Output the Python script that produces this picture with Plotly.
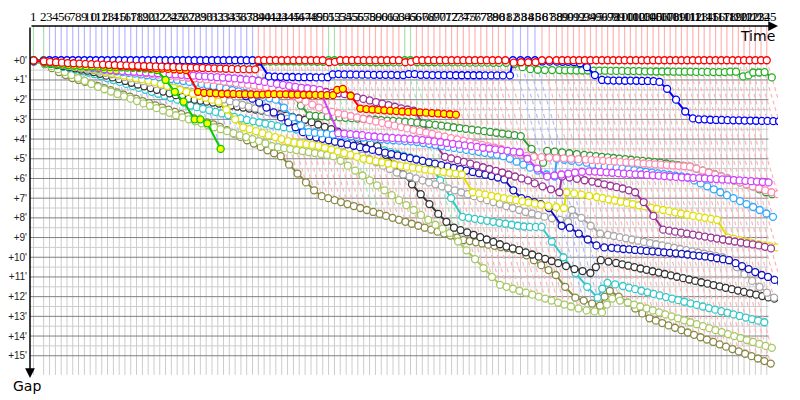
import itertools
import plotly.graph_objects as go

# leader lap times in minutes (lap 1->2, 2->3, ...)
LAP_TIMES = [
    1.75,
    1.02, 1.01, 1.0, 1.0, 0.99, 1.0, 1.01, 1.0, 0.99, 1.0,
    1.0, 1.01, 1.0, 0.99, 1.0, 1.0, 1.01, 1.0, 1.0, 0.99,
    1.0, 1.0, 1.01, 1.0, 0.99, 1.0, 1.0, 1.0, 1.01, 0.99,
    1.0, 1.0, 1.0, 1.0, 0.99, 1.01, 1.0, 1.0,
    1.01, 1.0, 1.02, 1.01, 1.01, 1.0, 1.02, 1.01, 1.0, 1.02,
    1.01, 1.01, 1.0, 1.02, 1.01, 1.01, 1.0, 1.02, 1.01, 1.01,
    1.0, 1.02, 1.01, 1.01, 1.0, 1.02, 1.01, 1.01, 1.0, 1.02,
    1.01, 1.01, 1.0, 1.02, 1.01, 1.01, 1.0, 1.02, 1.01, 1.01,
    1.2, 1.3, 1.3, 1.25, 1.25, 1.2, 1.25, 1.25,
    0.98, 0.97, 0.99, 0.98, 0.98, 0.97, 0.99, 0.98, 0.98, 0.97,
    0.99, 0.98, 0.98, 0.97, 0.99, 0.98, 0.98, 0.97, 0.99, 0.98,
    0.98, 0.97, 0.99, 0.98, 0.98, 0.97, 0.99, 0.98, 0.98, 0.97,
    0.99, 0.98, 0.98, 0.97, 0.99, 0.98, 0.98,
]

# (first lap, last lap, leading car)
LEAD_SPELLS = [
    (1, 2, "green"), (3, 38, "blue"), (39, 50, "red"), (51, 52, "green"),
    (53, 63, "red"), (64, 65, "green"), (66, 81, "red"), (82, 85, "blue"),
    (86, 125, "red"),
]

GAP_LABELS = ["+%d'" % m for m in range(16)]

# gap to leader per lap, minutes
RED = [
    0.01, 0.05, 0.08, 0.1, 0.12, 0.14, 0.15, 0.17, 0.18, 0.2,
    0.21, 0.22, 0.23, 0.24, 0.25, 0.26, 0.27, 0.28, 0.29, 0.3,
    0.31, 0.32, 0.33, 0.34, 0.35, 0.36, 0.37, 0.38, 0.39, 0.4,
    0.41, 0.42, 0.43, 0.44, 0.45, 0.45, 0.46, 0.46,
    0, 0, 0, 0, 0, 0, 0, 0, 0, 0, 0, 0,
    0.1, 0.08,
    0, 0, 0, 0, 0, 0, 0, 0, 0, 0, 0,
    0.1, 0.08,
    0, 0, 0, 0, 0, 0, 0, 0, 0, 0, 0, 0, 0, 0, 0, 0,
    0.12, 0.1, 0.1, 0.1,
    0, 0, 0, 0, 0, 0, 0, 0, 0, 0, 0, 0, 0, 0, 0, 0, 0, 0, 0, 0,
    0, 0, 0, 0, 0, 0, 0, 0, 0, 0, 0, 0, 0, 0, 0, 0, 0, 0, 0, 0,
]
BLUE = [
    0.02, 0.02,
    0, 0, 0, 0, 0, 0, 0, 0, 0, 0, 0, 0, 0, 0, 0, 0, 0, 0,
    0, 0, 0, 0, 0, 0, 0, 0, 0, 0, 0, 0, 0, 0, 0, 0, 0, 0,
    0.05, 0.82,
    0.83, 0.84, 0.85, 0.85, 0.86, 0.86, 0.86, 0.87, 0.87, 0.86,
    0.72, 0.7,
    0.72, 0.72, 0.73, 0.73, 0.73, 0.74, 0.74, 0.74, 0.74, 0.75,
    0.75, 0.7, 0.7, 0.74, 0.74, 0.75, 0.75, 0.75, 0.75, 0.76,
    0.76, 0.76, 0.76, 0.76, 0.77, 0.77, 0.77, 0.77, 0.77,
    0, 0, 0, 0,
    0.06, 0.07, 0.07, 0.08, 0.08, 0.1,
    0.15, 0.35, 0.75, 1.0,
    1.02, 1.03, 1.03, 1.04, 1.03, 1.04, 1.05, 1.05, 1.06,
    1.1, 1.45, 2.0, 2.6, 2.95,
    3.0, 3.0, 3.02, 3.03, 3.03, 3.04, 3.05, 3.05, 3.06, 3.06,
    3.07, 3.08, 3.08, 3.09, 3.1, 3.1,
]
GREEN = [
    0.0, 0.0, 0.05, 0.08, 0.09, 0.1, 0.1, 0.11, 0.11, 0.12,
    0.12, 0.13, 0.13, 0.14, 0.14, 0.15, 0.15, 0.15, 0.16, 0.16,
    0.16, 0.17, 0.17, 0.17, 0.18, 0.18, 0.18, 0.19, 0.19, 0.19,
    0.2, 0.2, 0.2, 0.21, 0.21, 0.21, 0.22, 0.22,
    0.08, 0.07, 0.07, 0.07, 0.06, 0.06, 0.06, 0.07, 0.07, 0.07, 0.08, 0.08,
    0.0, 0.0,
    0.08, 0.08, 0.09, 0.09, 0.09, 0.1, 0.1, 0.1, 0.1, 0.11, 0.11,
    0.0, 0.0,
    0.1, 0.1, 0.1, 0.1, 0.11, 0.11, 0.11, 0.11, 0.12, 0.12,
    0.12, 0.12, 0.12, 0.13, 0.13, 0.13,
    0.2, 0.35, 0.45, 0.48,
    0.5, 0.5, 0.5, 0.51, 0.51, 0.52,
    0.52, 0.52, 0.53, 0.53, 0.53, 0.54, 0.54, 0.54, 0.55, 0.55,
    0.55, 0.56, 0.56,
    0.57, 0.57, 0.57, 0.58, 0.58, 0.58, 0.58, 0.59, 0.59, 0.59,
    0.6, 0.6, 0.6, 0.58,
    0.58, 0.82, 0.77, 0.62, 0.62, 0.6, 0.87,
]
RED_YELLOW = [
    0.01, 0.05, 0.08, 0.1, 0.11, 0.12, 0.13, 0.14, 0.15, 0.16,
    0.18, 0.2, 0.22, 0.25, 0.28, 0.3, 0.32, 0.34, 0.36, 0.38,
    0.4, 0.42, 0.44, 0.46, 0.48, 0.5,
    1.6, 1.65, 1.66, 1.68, 1.7, 1.7, 1.71, 1.72, 1.72, 1.73, 1.74, 1.74,
    1.72, 1.72, 1.73, 1.73, 1.74, 1.74, 1.75, 1.75, 1.76, 1.76, 1.77, 1.77,
    1.5, 1.45, 1.8, 2.45,
    2.48, 2.5, 2.52, 2.54, 2.56, 2.58, 2.6, 2.62, 2.62, 2.64,
    2.66, 2.68, 2.7, 2.72, 2.74, 2.76,
]
GREEN_YELLOW = [
    0.01, 0.1, 0.15, 0.2, 0.22, 0.24, 0.26, 0.28, 0.3, 0.31,
    0.32, 0.33, 0.34, 0.35, 0.36, 0.37, 0.38, 0.4, 0.42, 0.45,
    0.5, 1.0, 1.6, 2.1, 3.0, 3.0, 3.2, 4.5,
]
MAGENTA = [
    0.02, 0.08, 0.12, 0.15, 0.18, 0.21, 0.24, 0.28, 0.32, 0.35,
    0.4, 0.45, 0.5, 0.52, 0.54, 0.56, 0.58, 0.6, 0.62, 0.64,
    0.66, 0.68, 0.7, 0.72, 0.74, 0.76, 0.78, 0.8, 0.82, 0.84,
    0.86, 0.88, 0.9, 0.92, 0.95, 0.98, 1.0, 1.05, 1.1, 1.15,
    1.2, 1.25, 1.3, 1.35, 1.4, 1.42, 1.45, 1.5,
    3.7, 3.72, 3.75, 3.78, 3.8, 3.85, 3.87, 3.9, 3.92, 3.94, 3.96, 3.98, 4.0,
    4.02, 4.05, 4.08, 4.12, 4.15, 4.2, 4.24, 4.28, 4.32, 4.36,
    4.4, 4.44, 4.48, 4.52, 4.56, 4.6, 4.64, 4.67,
    5.0, 5.5, 5.9, 5.85, 5.8, 5.75, 5.7, 5.66, 5.64,
    5.65, 5.67, 5.69, 5.71, 5.73, 5.75, 5.77, 5.79, 5.8, 5.82,
    5.84, 5.86, 5.88, 5.9, 5.92, 5.94,
    5.95, 5.97, 5.98, 6.0, 6.02, 6.03, 6.05, 6.06, 6.08, 6.1,
    6.12, 6.14, 6.16, 6.18, 6.2,
]
DARK_BLUE = [
    0.02, 0.06, 0.09, 0.12, 0.15, 0.18, 0.2, 0.23, 0.26, 0.3,
    0.33, 0.36, 0.39, 0.42, 0.45, 0.48, 0.51, 0.54, 0.57, 0.6, 0.63, 0.67,
    0.75, 0.83, 0.9, 0.98, 1.06, 1.15, 1.24, 1.33, 1.42, 1.51, 1.6, 1.7, 1.82, 1.95,
    2.15, 2.4, 2.65, 2.9, 3.15, 3.4, 3.65, 3.85,
    3.92, 3.99, 4.06, 4.13, 4.2, 4.27, 4.34, 4.41, 4.48, 4.55,
    4.62, 4.69, 4.76, 4.83, 4.9, 4.97, 5.04, 5.11, 5.18, 5.25,
    5.32, 5.39, 5.46, 5.53, 5.6, 5.67, 5.74, 5.81, 5.88, 5.95,
    6.05, 6.6, 7.0, 7.1, 7.2, 7.3, 7.5, 8.4, 8.5, 8.8, 9.1, 9.4, 9.5,
    9.52, 9.55, 9.58, 9.6, 9.63, 9.65, 9.68, 9.7, 9.73, 9.75,
    9.78, 9.8, 9.83, 9.86, 9.9, 9.93, 9.96, 10.0, 10.05, 10.1, 10.15,
    10.3, 10.45, 10.6, 10.75, 10.9, 11.0, 11.15, 11.3,
]
PINK = [
    0.03, 0.07, 0.1, 0.13, 0.17, 0.2, 0.24, 0.27, 0.31, 0.35,
    0.38, 0.42, 0.45, 0.49, 0.52, 0.56, 0.59, 0.63, 0.66, 0.7,
    0.73, 0.76, 0.79, 0.82, 0.85, 0.88, 0.91, 0.94, 0.97, 1.0,
    1.04, 1.08, 1.12, 1.16, 1.2, 1.24, 1.28, 1.32, 1.36, 1.4,
    1.55, 1.7, 1.82, 1.95, 2.1, 2.25, 2.4, 2.55,
    2.62, 2.69, 2.76, 2.83, 2.9, 2.97, 3.04, 3.11, 3.18, 3.25,
    3.32, 3.39, 3.46, 3.53, 3.6, 3.67, 3.74, 3.81, 3.88, 3.95,
    4.02, 4.09, 4.16, 4.23, 4.3, 4.37, 4.44, 4.5,
    4.6, 4.7, 4.78, 4.85, 4.9,
    4.92, 4.94, 4.96, 4.98, 5.0, 5.02, 5.04, 5.06, 5.08, 5.1,
    5.12, 5.14, 5.16, 5.18, 5.2, 5.22, 5.24, 5.26, 5.28, 5.3,
    5.32, 5.34, 5.36, 5.38, 5.4,
    5.5, 5.6, 5.7, 5.8, 5.9, 6.0, 6.1, 6.2, 6.3, 6.4, 6.5, 6.6, 6.7, 6.8,
]
PURPLE = [
    0.02, 0.05, 0.08, 0.11, 0.14, 0.17, 0.2, 0.23, 0.27, 0.3,
    0.33, 0.36, 0.39, 0.42, 0.45, 0.48, 0.51, 0.54, 0.57, 0.6,
    0.63, 0.66, 0.69, 0.72, 0.75, 0.78, 0.81, 0.84, 0.87, 0.9,
    0.93, 0.97, 1.0, 1.04, 1.07, 1.11, 1.14, 1.18, 1.21, 1.25,
    1.29, 1.33, 1.37, 1.41, 1.45, 1.49, 1.53, 1.57, 1.61, 1.65, 1.68, 1.72,
    1.8, 1.88, 1.96, 2.04, 2.12, 2.2, 2.28, 2.36, 2.44, 2.5, 2.56,
    3.2, 4.3, 4.9,
    4.98, 5.07, 5.16, 5.25, 5.34, 5.43, 5.52, 5.61, 5.7, 5.8, 5.9, 6.0,
    6.1, 6.25, 6.4, 6.55, 6.7,
    5.9,
    5.95, 6.02, 6.09, 6.16, 6.23, 6.3, 6.37, 6.44, 6.51, 6.6, 6.7,
    7.2, 7.9, 8.6,
    8.65, 8.7, 8.75, 8.8, 8.85, 8.9, 8.95, 9.0, 9.05, 9.1,
    9.15, 9.2, 9.25, 9.3, 9.35, 9.4, 9.47, 9.55,
]
YELLOW = [
    0.03, 0.08, 0.12, 0.17, 0.21, 0.26, 0.31, 0.35, 0.4, 0.45,
    0.51, 0.57, 0.64, 0.7, 0.77, 0.83, 0.9, 0.96, 1.03, 1.1,
    1.2, 1.3, 1.4, 1.5, 1.6, 1.7, 1.8, 1.9, 2.0, 2.1,
    2.5, 3.0, 3.4,
    3.5, 3.6, 3.7, 3.8, 3.9, 4.0, 4.1,
    4.18, 4.22, 4.26, 4.3, 4.35,
    4.44, 4.53, 4.62, 4.71, 4.8, 4.9, 5.0,
    5.06, 5.12, 5.18, 5.24, 5.3, 5.35, 5.4,
    5.45, 5.5, 5.55, 5.59, 5.63, 5.67, 5.71, 5.75, 5.8,
    6.7,
    6.76, 6.82, 6.88, 6.94, 7.0, 7.05, 7.1,
    7.16, 7.22, 7.28, 7.34, 7.4, 7.45, 7.5,
    6.7,
    6.76, 6.82, 6.88, 6.94, 7.0, 7.06, 7.12, 7.18, 7.24, 7.3,
    7.36, 7.42, 7.48, 7.54, 7.6, 7.66, 7.72, 7.78, 7.84, 7.9,
    7.95, 8.0, 8.05, 8.1,
    9.0,
    9.07, 9.14, 9.21, 9.28, 9.35, 9.4, 9.45, 9.5,
]
AZURE = [
    0.03, 0.07, 0.11, 0.15, 0.19, 0.23, 0.27, 0.31, 0.35, 0.4,
    0.44, 0.48, 0.52, 0.56, 0.6, 0.64, 0.68, 0.72, 0.76, 0.8,
    0.85, 0.9, 0.95, 1.0, 1.05, 1.1, 1.15, 1.2, 1.25, 1.3,
    1.37, 1.44, 1.51, 1.58, 1.65, 1.72, 1.79, 1.86, 1.93, 2.0,
    2.4, 2.9, 3.3, 3.65,
    3.68, 3.71, 3.74, 3.77, 3.8, 3.83, 3.86, 3.89, 3.92, 3.95,
    3.98, 4.01, 4.04, 4.06, 4.08, 4.1, 4.12, 4.15,
    4.2, 4.25, 4.3, 4.35, 4.4, 4.45, 4.5, 4.55, 4.6, 4.65, 4.7, 4.75, 4.8, 4.87,
    5.0, 5.15, 5.3, 5.45, 5.6, 5.8,
    5.9, 5.0,
    5.05, 5.1, 5.15, 5.2,
    5.3, 5.34, 5.38, 5.42, 5.46, 5.5, 5.54, 5.58, 5.62, 5.66,
    5.7, 5.74, 5.78, 5.82, 5.86, 5.9, 5.95,
    6.1, 6.25, 6.4, 6.55, 6.7, 6.85, 7.0, 7.15, 7.3, 7.45, 7.6, 7.78, 7.95,
]
DARK_GREEN = [
    0.02, 0.06, 0.1, 0.14, 0.18, 0.21, 0.24, 0.27, 0.31, 0.35,
    0.38, 0.41, 0.44, 0.47, 0.5, 0.53, 0.56, 0.59, 0.62, 0.65,
    0.68, 0.71, 0.74, 0.77, 0.81, 0.86, 0.92,
    0.93, 0.94, 0.95, 0.96, 0.97, 0.98, 0.99, 1.0, 1.01, 1.02, 1.04, 1.06, 1.08,
    1.3, 1.55, 1.8, 2.3, 2.8, 2.82,
    2.84, 2.86, 2.88, 2.9, 2.92, 2.94, 2.96, 2.98, 3.0, 3.02,
    3.04, 3.06, 3.08, 3.1, 3.12, 3.14, 3.17, 3.2,
    3.24, 3.28, 3.32, 3.36, 3.4, 3.44, 3.48, 3.52, 3.56, 3.6,
    3.64, 3.68, 3.72, 3.76, 3.8, 3.85,
    4.5, 5.2, 4.6,
    4.64, 4.68, 4.72, 4.76, 4.8, 4.84, 4.87, 4.9, 4.93, 4.96,
    4.99, 5.02, 5.05, 5.08, 5.11, 5.14, 5.17, 5.2, 5.24, 5.28,
    5.32, 5.36, 5.4,
    5.5, 5.6, 5.7, 5.8, 5.9, 6.0, 6.1, 6.2, 6.3, 6.4, 6.55, 6.7, 6.8,
]
GRAY = [
    0.04, 0.09, 0.14, 0.19, 0.24, 0.29, 0.34, 0.39, 0.44, 0.5,
    0.57, 0.64, 0.71, 0.78, 0.85, 0.92, 0.99, 1.06, 1.13, 1.2,
    1.27, 1.34, 1.41, 1.48, 1.55, 1.62, 1.69, 1.76, 1.83, 1.9,
    1.99, 2.08, 2.17, 2.26, 2.35, 2.44, 2.53, 2.62, 2.71, 2.8,
    2.97, 3.14, 3.31, 3.48, 3.65, 3.82, 3.99, 4.16, 4.33, 4.5,
    4.67, 4.84, 5.01, 5.18, 5.35, 5.52, 5.7,
    5.8, 5.9, 6.0, 6.1, 6.2, 6.3, 6.4, 6.5, 6.6, 6.7,
    6.8, 6.9, 7.0, 7.1, 7.2, 7.3, 7.4, 7.5, 7.6,
    7.7, 7.78, 7.86, 7.94, 8.02, 8.1, 8.2,
    7.6, 8.0, 8.4, 8.8,
    8.86, 8.92, 8.98, 9.04, 9.1, 9.16, 9.22, 9.28, 9.34, 9.4,
    9.46, 9.52, 9.58, 9.64, 9.7, 9.76, 9.82, 9.88, 9.94, 10.0, 10.15,
    10.5, 10.85, 11.2, 11.5, 11.8, 12.05,
]
BLACK = [
    0.05, 0.11, 0.17, 0.23, 0.29, 0.35, 0.41, 0.47, 0.53, 0.6,
    0.69, 0.78, 0.87, 0.96, 1.05, 1.14, 1.23, 1.32, 1.41, 1.5,
    1.59, 1.68, 1.77, 1.86, 1.95,
    2.0, 2.05, 2.1, 2.15, 2.2, 2.25, 2.3, 2.35, 2.4, 2.45, 2.5, 2.55, 2.6,
    2.67, 2.74, 2.81, 2.88, 2.95, 3.02,
    3.14, 3.26, 3.38, 3.5, 3.62, 3.74, 3.86, 3.98, 4.1, 4.22, 4.36,
    4.8, 5.3, 5.8, 6.3, 6.8, 7.3, 7.8, 8.2, 8.5,
    8.62, 8.74, 8.86, 8.98, 9.1, 9.22, 9.34, 9.46, 9.55, 9.64,
    9.75, 9.86, 9.97, 10.08, 10.19, 10.3, 10.45, 10.6, 10.7, 10.8,
    10.5, 10.15,
    10.22, 10.29, 10.36, 10.43, 10.5, 10.57, 10.64, 10.71, 10.78, 10.85,
    10.92, 10.99, 11.06, 11.13, 11.2, 11.27, 11.34, 11.41, 11.48, 11.55,
    11.62, 11.69, 11.76, 11.83, 11.9, 11.97, 12.04, 12.1,
]
CYAN = [
    0.05, 0.12, 0.19, 0.26, 0.33, 0.4, 0.47, 0.55, 0.62, 0.7,
    0.8, 0.9, 1.0, 1.1, 1.2, 1.3, 1.4, 1.5, 1.6, 1.7,
    1.8, 1.9, 2.0, 2.15, 2.3,
    2.38, 2.46, 2.54, 2.62, 2.7, 2.78, 2.87, 2.95, 3.03, 3.1,
    3.16, 3.22, 3.28, 3.34, 3.4, 3.46, 3.52, 3.58, 3.64, 3.7, 3.75, 3.8, 3.85,
    3.94, 4.03, 4.12, 4.21, 4.3, 4.39, 4.48, 4.57, 4.66, 4.75,
    4.84, 4.93, 5.02, 5.11, 5.2,
    6.1, 7.0, 7.95,
    8.0, 8.05, 8.1, 8.15, 8.2, 8.25, 8.3, 8.35, 8.4, 8.44, 8.46, 8.46, 8.46,
    9.2, 10.0, 10.8, 11.5, 12.05,
    11.6, 11.3,
    11.38, 11.46, 11.54, 11.62, 11.7, 11.78, 11.86, 11.94, 12.02, 12.1,
    12.18, 12.26, 12.34, 12.42, 12.5, 12.58, 12.66, 12.74, 12.82, 12.9,
    12.98, 13.06, 13.14, 13.22, 13.3,
]
LIGHT_OLIVE = [
    0.05, 0.15, 0.3, 0.45, 0.6, 0.75, 0.9, 1.05, 1.2, 1.35,
    1.47, 1.59, 1.71, 1.83, 1.95, 2.07, 2.19, 2.31, 2.43, 2.55,
    2.67, 2.79, 2.9, 3.0,
    3.1, 3.2, 3.3, 3.4, 3.5, 3.6, 3.7, 3.8, 3.9, 4.0, 4.1, 4.22, 4.36,
    4.41, 4.46, 4.51, 4.56, 4.61, 4.66, 4.71, 4.76, 4.81, 4.87,
    5.1, 5.35, 5.6, 5.85, 6.1, 6.35, 6.6, 6.85, 7.1, 7.35,
    7.6, 7.85, 8.1, 8.35, 8.55, 8.77,
    9.2, 9.65, 10.1, 10.55, 11.0, 11.4,
    11.5, 11.6, 11.7, 11.8, 11.9, 12.0, 12.1, 12.2, 12.3, 12.4,
    12.5, 12.6, 12.7, 12.75, 12.8,
    12.4, 12.1,
    12.2, 12.3, 12.4, 12.5, 12.6, 12.7, 12.8, 12.9, 13.0, 13.1,
    13.2, 13.3, 13.4, 13.5, 13.6, 13.7, 13.8, 13.9, 14.0, 14.1,
    14.2, 14.3, 14.4, 14.5, 14.6,
]
OLIVE = [
    0.05, 0.2, 0.4, 0.6, 0.75, 0.9, 1.0, 1.1, 1.2, 1.3,
    1.41, 1.52, 1.63, 1.74, 1.85, 1.96, 2.07, 2.18, 2.29, 2.4,
    2.51, 2.62, 2.73, 2.84, 2.95, 3.05, 3.15, 3.25, 3.38,
    3.55, 3.72, 3.89, 4.06, 4.23, 4.4, 4.57, 4.72, 4.87,
    5.3, 5.75, 6.2, 6.6, 6.9, 7.0,
    7.1, 7.2, 7.3, 7.4, 7.5, 7.6, 7.7, 7.8, 7.9, 8.0,
    8.1, 8.2, 8.3, 8.4, 8.5, 8.6, 8.7, 8.8, 8.9, 9.0, 9.13,
    9.18, 9.24, 9.3, 9.36, 9.42, 9.48, 9.54, 9.6, 9.64,
    9.9, 10.15, 10.4, 10.65, 10.9, 11.5, 12.05,
    12.2, 12.35, 12.46,
    12.0, 11.7,
    12.0, 12.3, 12.6, 12.85, 13.1,
    13.22, 13.34, 13.46, 13.58, 13.7, 13.82, 13.94, 14.06, 14.18, 14.3,
    14.42, 14.54, 14.66, 14.78, 14.9, 15.02, 15.14, 15.27, 15.4,
]

# laps driven with the yellow-filled marker
FILLED_LAPS = {"magenta": 14, "dark blue": 22, "red yellow": 70, "green yellow": 28}

# drawing order: back to front
CARS = [
    ("olive", OLIVE), ("light olive", LIGHT_OLIVE), ("cyan", CYAN), ("black", BLACK),
    ("gray", GRAY), ("dark blue", DARK_BLUE), ("yellow", YELLOW), ("purple", PURPLE),
    ("azure", AZURE), ("dark green", DARK_GREEN), ("pink", PINK), ("magenta", MAGENTA),
    ("green yellow", GREEN_YELLOW), ("red yellow", RED_YELLOW), ("green", GREEN),
    ("blue", BLUE), ("red", RED),
]

CAR_COLORS = {
    "red": "#ff0000", "blue": "#0000ff", "green": "#22b022", "red yellow": "#ff0000",
    "green yellow": "#00cc00", "magenta": "#d040ff", "dark blue": "#1010c0",
    "pink": "#ff8cb4", "purple": "#993399", "dark green": "#339933", "azure": "#30a8ff",
    "yellow": "#e0e000", "gray": "#a8a8a8", "black": "#333333", "cyan": "#30c8c8",
    "light olive": "#a8c864", "olive": "#888844",
}
LAP_LINE_COLORS = {"blue": "#b8b8ff", "red": "#ffb4b4", "green": "#ace0ac"}

# geometry (the page puts the figure 8px in from the top-left corner)
T = list(itertools.accumulate([0.0] + LAP_TIMES))
X_MIN, X_MAX = -0.6, 128.37
Y_TOP, Y_BOTTOM = -1.74, 16.13
GRID_BOTTOM = 15.97
GRID_RIGHT = T[-1] + 0.3

leader = {}
for first, last, car in LEAD_SPELLS:
    for lap in range(first, last + 1):
        leader[lap] = car

# the lap line runs down to the last car still on that lap
last_gap = [max(g[i] for _, g in CARS if i < len(g)) for i in range(len(T))]

fig = go.Figure()


def add_segments(segments, color, width=1, dash=None):
    xs, ys = [], []
    for (x0, y0), (x1, y1) in segments:
        xs += [x0, x1, None]
        ys += [y0, y1, None]
    fig.add_trace(go.Scatter(x=xs, y=ys, mode="lines", hoverinfo="skip",
                             line=dict(color=color, width=width, dash=dash)))


# grid
add_segments([((X_MIN, m + 0.5), (GRID_RIGHT, m + 0.5)) for m in range(15)], "#cccccc")
add_segments([((t, 0), (t, GRID_BOTTOM)) for t in T], "#cccccc")
add_segments([((X_MIN, m), (GRID_RIGHT, m)) for m in range(16)], "#808080")

# leader lap lines: vertical above zero, dashed diagonal below
for car, color in LAP_LINE_COLORS.items():
    laps = [i for i in range(len(T)) if leader[i + 1] == car]
    add_segments([((T[i], Y_TOP), (T[i], 0)) for i in laps], color, 1.2)
    add_segments([((T[i], 0), (T[i] + last_gap[i], last_gap[i])) for i in laps],
                 color, 1.2, "4px,3px")

# cars
for name, gaps in CARS:
    color = CAR_COLORS[name]
    xs = [t + g for t, g in zip(T, gaps)]
    ys = gaps[:len(xs)]
    n_filled = FILLED_LAPS.get(name, 0)
    fills = ["#ffff00" if i < n_filled else "white" for i in range(len(xs))]
    fig.add_trace(go.Scatter(
        x=xs, y=ys, mode="lines+markers", name=name,
        line=dict(color=color, width=2),
        marker=dict(symbol="circle", size=7, color=fills,
                    line=dict(color=color, width=1.3)),
    ))

# lap numbers along the time axis
for i, t in enumerate(T):
    fig.add_annotation(x=t, y=1, xref="x", yref="paper", yshift=10, yanchor="middle",
                       text=str(i + 1), showarrow=False,
                       font=dict(family="Liberation Serif", size=13, color="black"))

# axis arrows and titles
fig.add_annotation(x=1, y=1, xref="paper", yref="paper", ax=-748, ay=0, text="",
                   showarrow=True, arrowhead=2, arrowsize=1.3, arrowwidth=1.5,
                   arrowcolor="black", standoff=0)
fig.add_annotation(x=0, y=0, xref="paper", yref="paper", ax=0, ay=-352, text="",
                   showarrow=True, arrowhead=2, arrowsize=1.3, arrowwidth=1.5,
                   arrowcolor="black", standoff=0)
fig.add_annotation(x=1, y=1, xref="paper", yref="paper", xanchor="right", yanchor="middle",
                   xshift=-1, yshift=-10, text="Time", showarrow=False,
                   font=dict(family="DejaVu Sans", size=14, color="black"))
fig.add_annotation(x=0, y=0, xref="paper", yref="paper", xanchor="left", yanchor="middle",
                   xshift=-19, yshift=-8, text="Gap", showarrow=False,
                   font=dict(family="DejaVu Sans", size=14, color="black"))

fig.update_layout(
    width=792, height=392,
    margin=dict(l=22, r=22, t=18, b=22),
    plot_bgcolor="white", paper_bgcolor="white",
    showlegend=False,
    xaxis=dict(range=[X_MIN, X_MAX], showgrid=False, zeroline=False, automargin=False,
               showticklabels=False, ticks=""),
    yaxis=dict(range=[Y_BOTTOM, Y_TOP], showgrid=False, zeroline=False, ticks="",
               automargin=False, tickmode="array", tickvals=list(range(16)),
               ticktext=GAP_LABELS, ticklabelstandoff=2,
               tickfont=dict(family="Liberation Sans", size=10, color="#222222")),
)

fig.write_html("out.html")
